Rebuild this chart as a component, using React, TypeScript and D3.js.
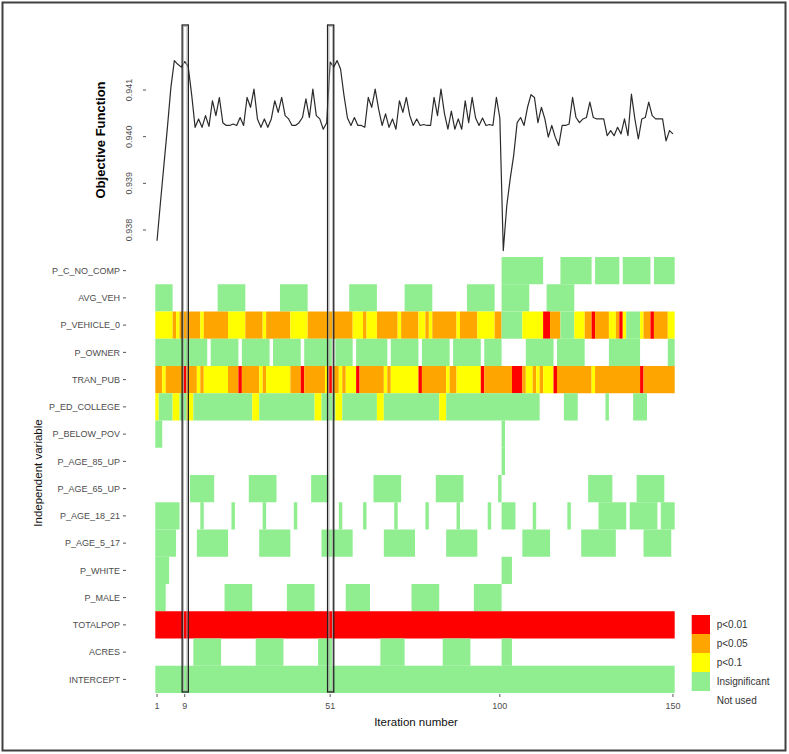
import React from "react";
import * as d3 from "d3";

type Run = [number, number, string];

const iterationTicks = [1, 9, 51, 100, 150];
const highlightedIterations = [9, 51];
const objectiveTicks = [0.938, 0.939, 0.94, 0.941];

const objectiveValues = [
  0.93777, 0.9386, 0.9394, 0.9402, 0.94105, 0.94163, 0.94155, 0.94149, 0.94161, 0.9415,
  0.9409, 0.9402, 0.94038, 0.9402, 0.94045, 0.94022, 0.94077, 0.94045, 0.94084, 0.9403,
  0.94024, 0.94024, 0.94027, 0.94024, 0.94041, 0.94024, 0.94084, 0.94063, 0.94102, 0.94038,
  0.9402, 0.94038, 0.9402, 0.94038, 0.94077, 0.94052, 0.94084, 0.94045, 0.94038, 0.94024,
  0.94024, 0.9403, 0.94041, 0.94081, 0.94041, 0.94102, 0.94045, 0.94038, 0.94016, 0.9403,
  0.9416, 0.94149, 0.94163, 0.94145, 0.94088, 0.9404, 0.94024, 0.94041, 0.94024, 0.94024,
  0.9402, 0.94084, 0.94063, 0.94102, 0.94059, 0.94024, 0.94049, 0.9402, 0.94038, 0.94016,
  0.94077, 0.94052, 0.94084, 0.94045, 0.94024, 0.94038, 0.94024, 0.94026, 0.94024, 0.94024,
  0.94084, 0.94045, 0.94102, 0.9405, 0.94016, 0.94055, 0.94016, 0.94038, 0.94016, 0.94077,
  0.9403, 0.94084, 0.9404, 0.94024, 0.9404, 0.94024, 0.94026, 0.94024, 0.94084, 0.9404,
  0.93756, 0.93852, 0.9391, 0.9396, 0.9403, 0.94041, 0.94024, 0.94063, 0.9409, 0.94084,
  0.9403, 0.94063, 0.94038, 0.93999, 0.94024, 0.93999, 0.93981, 0.94024, 0.94024, 0.94027,
  0.94084, 0.94041, 0.9403, 0.94038, 0.94041, 0.94074, 0.94041, 0.94038, 0.94038, 0.94038,
  0.94002, 0.94013, 0.94002, 0.9402, 0.94006, 0.94038, 0.94002, 0.94091, 0.94038, 0.93995,
  0.94038, 0.94041, 0.94074, 0.94045, 0.94038, 0.94038, 0.94038, 0.93991, 0.94013, 0.94006,
];

const variables = [
  "P_C_NO_COMP", "AVG_VEH", "P_VEHICLE_0", "P_OWNER", "TRAN_PUB", "P_ED_COLLEGE",
  "P_BELOW_POV", "P_AGE_85_UP", "P_AGE_65_UP", "P_AGE_18_21", "P_AGE_5_17",
  "P_WHITE", "P_MALE", "TOTALPOP", "ACRES", "INTERCEPT",
];

const levelNames = ["p<0.01", "p<0.05", "p<0.1", "Insignificant", "Not used"];
const levelCodes = ["r", "o", "y", "g", "."];

const runsPCNoComp: Run[] = [[101, 112, "g"], [118, 126, "g"], [128, 134, "g"], [136, 143, "g"], [145, 150, "g"]];
const runsAvgVeh: Run[] = [[1, 5, "g"], [19, 26, "g"], [37, 44, "g"], [57, 64, "g"], [73, 80, "g"], [91, 98, "g"], [101, 108, "g"], [114, 121, "g"]];
const runsPVehicle0: Run[] = [
  [1, 5, "y"], [6, 6, "o"], [7, 7, "y"], [8, 13, "o"], [14, 14, "y"], [15, 21, "o"], [22, 26, "y"], [27, 31, "o"],
  [32, 32, "y"], [33, 39, "o"], [40, 44, "y"], [45, 57, "o"], [58, 60, "y"], [61, 61, "o"], [62, 64, "y"], [65, 70, "o"],
  [71, 71, "y"], [72, 76, "o"], [77, 78, "y"], [79, 79, "o"], [80, 80, "y"], [81, 87, "o"], [88, 88, "y"], [89, 93, "o"],
  [94, 98, "y"], [99, 100, "o"], [101, 106, "g"], [107, 112, "y"], [113, 114, "r"], [115, 117, "o"], [118, 121, "g"],
  [122, 124, "y"], [125, 126, "o"], [127, 127, "r"], [128, 131, "o"], [132, 133, "y"], [134, 134, "o"], [135, 135, "r"],
  [136, 136, "y"], [137, 140, "g"], [141, 141, "y"], [142, 143, "o"], [144, 144, "r"], [145, 148, "o"], [149, 150, "y"],
];
const runsPOwner: Run[] = [
  [1, 15, "g"], [17, 24, "g"], [26, 33, "g"], [35, 42, "g"], [44, 51, "g"], [53, 57, "g"], [59, 67, "g"], [69, 76, "g"],
  [78, 85, "g"], [87, 94, "g"], [96, 100, "g"], [108, 115, "g"], [117, 124, "g"], [132, 140, "g"], [149, 150, "g"],
];
const runsTranPub: Run[] = [
  [1, 2, "o"], [3, 3, "y"], [4, 8, "o"], [9, 9, "r"], [10, 12, "o"], [13, 13, "y"], [14, 14, "o"], [15, 21, "y"],
  [22, 24, "o"], [25, 25, "r"], [26, 30, "o"], [31, 31, "y"], [32, 32, "o"], [33, 39, "y"], [40, 42, "o"], [43, 43, "r"],
  [44, 49, "o"], [50, 50, "y"], [51, 51, "r"], [52, 53, "o"], [54, 54, "y"], [55, 55, "o"], [56, 58, "y"], [59, 59, "r"],
  [60, 66, "o"], [67, 67, "y"], [68, 68, "o"], [69, 76, "y"], [77, 77, "r"], [78, 84, "o"], [85, 85, "y"], [86, 87, "o"],
  [88, 94, "y"], [95, 95, "r"], [96, 103, "o"], [104, 106, "r"], [107, 107, "o"], [108, 109, "y"], [110, 110, "o"],
  [111, 111, "y"], [112, 112, "o"], [113, 115, "y"], [116, 116, "r"], [117, 126, "o"], [127, 127, "y"], [128, 140, "o"],
  [141, 141, "r"], [142, 150, "o"],
];
const runsPEdCollege: Run[] = [
  [1, 1, "y"], [2, 5, "g"], [6, 7, "y"], [8, 9, "g"], [10, 11, "y"], [12, 28, "g"], [29, 30, "y"], [31, 46, "g"],
  [47, 48, "y"], [49, 52, "g"], [53, 54, "y"], [55, 64, "g"], [65, 66, "y"], [67, 82, "g"], [83, 84, "y"], [85, 111, "g"],
  [119, 122, "g"], [131, 131, "g"], [139, 142, "g"],
];
const runsPBelowPov: Run[] = [[1, 2, "g"], [101, 101, "g"]];
const runsPAge85Up: Run[] = [[101, 101, "g"]];
const runsPAge65Up: Run[] = [[11, 17, "g"], [28, 35, "g"], [46, 50, "g"], [64, 71, "g"], [82, 89, "g"], [100, 100, "g"], [126, 132, "g"], [140, 147, "g"]];
const runsPAge18_21: Run[] = [
  [1, 7, "g"], [14, 14, "g"], [23, 23, "g"], [32, 32, "g"], [41, 41, "g"], [54, 54, "g"], [61, 61, "g"], [70, 70, "g"],
  [79, 79, "g"], [88, 88, "g"], [97, 97, "g"], [101, 104, "g"], [110, 110, "g"], [120, 120, "g"], [129, 136, "g"],
  [138, 145, "g"], [147, 150, "g"],
];
const runsPAge5_17: Run[] = [[1, 6, "g"], [13, 21, "g"], [31, 39, "g"], [49, 57, "g"], [67, 75, "g"], [85, 93, "g"], [107, 114, "g"], [124, 133, "g"], [142, 149, "g"]];
const runsPWhite: Run[] = [[1, 4, "g"], [101, 103, "g"]];
const runsPMale: Run[] = [[1, 3, "g"], [21, 28, "g"], [39, 46, "g"], [56, 62, "g"], [75, 82, "g"], [93, 100, "g"]];
const runsTotalPop: Run[] = [[1, 150, "r"]];
const runsAcres: Run[] = [[12, 19, "g"], [30, 37, "g"], [48, 51, "g"], [66, 72, "g"], [84, 91, "g"], [101, 103, "g"]];
const runsIntercept: Run[] = [[1, 150, "g"]];

const runsByVariable: Record<string, Run[]> = {
  P_C_NO_COMP: runsPCNoComp,
  AVG_VEH: runsAvgVeh,
  P_VEHICLE_0: runsPVehicle0,
  P_OWNER: runsPOwner,
  TRAN_PUB: runsTranPub,
  P_ED_COLLEGE: runsPEdCollege,
  P_BELOW_POV: runsPBelowPov,
  P_AGE_85_UP: runsPAge85Up,
  P_AGE_65_UP: runsPAge65Up,
  P_AGE_18_21: runsPAge18_21,
  P_AGE_5_17: runsPAge5_17,
  P_WHITE: runsPWhite,
  P_MALE: runsPMale,
  TOTALPOP: runsTotalPop,
  ACRES: runsAcres,
  INTERCEPT: runsIntercept,
};

const FONT = "'Liberation Sans', Arial, Helvetica, sans-serif";
const AXIS_TEXT = "#4d4d4d";

export default function App() {
  const W = 789;
  const H = 754;

  const color = d3.scaleOrdinal<string, string>()
    .domain(levelCodes)
    .range(["#ff0000", "#ffa500", "#ffff00", "#90ee90", "#ffffff"]);

  const x = d3.scaleLinear().domain([0.5, 150.5]).range([155.3, 674.7]);
  const y = d3.scaleBand<string>().domain(variables).range([257, 693]).padding(0);
  const yObj = d3.scaleLinear().domain([0.938, 0.941]).range([230, 90]);
  const legendY = d3.scaleBand<string>().domain(levelNames).range([615, 710]).padding(0);

  const linePath = d3.line<number>()
    .x((_, i) => x(i + 1))
    .y((d) => yObj(d))(objectiveValues) || "";

  const segments: { v: string; s: number; e: number; c: string }[] = [];
  variables.forEach((v) => {
    (runsByVariable[v] || []).forEach(([s, e, c]) => segments.push({ v, s, e, c }));
  });

  return (
    <svg
      width={W}
      height={H}
      viewBox={`0 0 ${W} ${H}`}
      style={{ position: "absolute", left: 0, top: 0, background: "#fff" }}
      fontFamily={FONT}
    >
      <rect x={0} y={0} width={W} height={H} fill="#fff" />

      {/* heatmap tiles */}
      <g>
        {segments.map((d, i) => (
          <rect
            key={i}
            x={x(d.s - 0.5)}
            y={y(d.v)!}
            width={x(d.e + 0.5) - x(d.s - 0.5)}
            height={y.bandwidth()}
            fill={color(d.c)}
          />
        ))}
      </g>

      {/* heatmap y axis */}
      <g>
        {variables.map((v) => {
          const cy = (y(v) || 0) + y.bandwidth() / 2;
          return (
            <g key={v}>
              <text x={120} y={cy} dy="0.35em" textAnchor="end" fontSize={9} fill={AXIS_TEXT}>
                {v}
              </text>
              <line x1={123} x2={126} y1={cy} y2={cy} stroke="#555" strokeWidth={1} />
            </g>
          );
        })}
        <text
          transform={`translate(37.5,473) rotate(-90)`}
          textAnchor="middle"
          dy="0.35em"
          fontSize={11.5}
          fill="#111"
        >
          Independent variable
        </text>
      </g>

      {/* x axis */}
      <g>
        {iterationTicks.map((t) => (
          <g key={t}>
            <line x1={x(t)} x2={x(t)} y1={694} y2={697} stroke="#555" strokeWidth={1} />
            <text x={x(t)} y={705.5} dy="0.35em" textAnchor="middle" fontSize={9} fill={AXIS_TEXT}>
              {t}
            </text>
          </g>
        ))}
        <text x={416} y={722} dy="0.35em" textAnchor="middle" fontSize={11.5} fill="#111">
          Iteration number
        </text>
      </g>

      {/* objective function */}
      <g>
        <path d={linePath} fill="none" stroke="#2b2b2b" strokeWidth={1.2} strokeLinejoin="round" />
        {objectiveTicks.map((t) => (
          <g key={t}>
            <line x1={143} x2={146} y1={yObj(t)} y2={yObj(t)} stroke="#555" strokeWidth={1} />
            <text
              transform={`translate(129,${yObj(t)}) rotate(-90)`}
              textAnchor="middle"
              dy="0.35em"
              fontSize={9}
              fill={AXIS_TEXT}
            >
              {d3.format(".3f")(t)}
            </text>
          </g>
        ))}
        <text
          transform={`translate(100,140) rotate(-90)`}
          textAnchor="middle"
          dy="0.35em"
          fontSize={13}
          fontWeight="bold"
          fill="#000"
        >
          Objective Function
        </text>
      </g>

      {/* highlighted iterations */}
      {highlightedIterations.map((it) => (
        <g key={it}>
          <rect x={x(it) - 2.6} y={25} width={6.2} height={667} fill="none" stroke="#222" strokeWidth={1.3} />
          <rect x={x(it) - 1.2} y={26.5} width={3.4} height={664} fill="none" stroke="#aaa" strokeWidth={0.8} />
        </g>
      ))}

      {/* legend */}
      <g>
        {levelNames.map((n, i) => (
          <g key={n}>
            <rect x={691.7} y={legendY(n)!} width={18.3} height={legendY.bandwidth()} fill={color(levelCodes[i])} />
            <text x={716.7} y={(legendY(n) || 0) + legendY.bandwidth() / 2} dy="0.35em" fontSize={10} fill="#333">
              {n}
            </text>
          </g>
        ))}
      </g>

      {/* frame */}
      <rect x={2.5} y={2.5} width={783} height={748} fill="none" stroke="#404040" strokeWidth={2} />
    </svg>
  );
}
